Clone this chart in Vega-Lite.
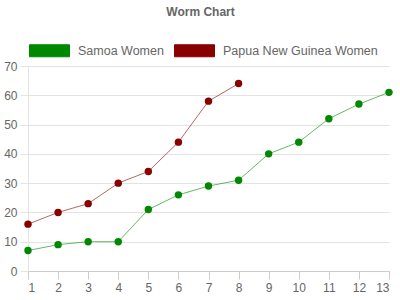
{
  "$schema": "https://vega.github.io/schema/vega-lite/v6.json",
  "width": 361,
  "height": 205,
  "autosize": {"type": "none"},
  "padding": {"left": 28, "top": 66, "right": 11, "bottom": 29},
  "background": "white",
  "config": {"view": {"stroke": null}, "font": "Liberation Sans"},
  "title": {"text": "Worm Chart", "fontSize": 12, "font": "Liberation Sans", "fontWeight": "bold", "color": "#666666", "anchor": "middle", "dx": -8, "offset": 11},
  "data": {
    "values": [
      {"series": "Samoa Women", "x": 1, "y": 7},
      {"series": "Samoa Women", "x": 2, "y": 9},
      {"series": "Samoa Women", "x": 3, "y": 10},
      {"series": "Samoa Women", "x": 4, "y": 10},
      {"series": "Samoa Women", "x": 5, "y": 21},
      {"series": "Samoa Women", "x": 6, "y": 26},
      {"series": "Samoa Women", "x": 7, "y": 29},
      {"series": "Samoa Women", "x": 8, "y": 31},
      {"series": "Samoa Women", "x": 9, "y": 40},
      {"series": "Samoa Women", "x": 10, "y": 44},
      {"series": "Samoa Women", "x": 11, "y": 52},
      {"series": "Samoa Women", "x": 12, "y": 57},
      {"series": "Samoa Women", "x": 13, "y": 61},
      {"series": "Papua New Guinea Women", "x": 1, "y": 16},
      {"series": "Papua New Guinea Women", "x": 2, "y": 20},
      {"series": "Papua New Guinea Women", "x": 3, "y": 23},
      {"series": "Papua New Guinea Women", "x": 4, "y": 30},
      {"series": "Papua New Guinea Women", "x": 5, "y": 34},
      {"series": "Papua New Guinea Women", "x": 6, "y": 44},
      {"series": "Papua New Guinea Women", "x": 7, "y": 58},
      {"series": "Papua New Guinea Women", "x": 8, "y": 64}
    ]
  },
  "encoding": {
    "x": {
      "field": "x", "type": "quantitative",
      "scale": {"domain": [1, 13], "nice": false, "zero": false},
      "axis": {"values": [1,2,3,4,5,6,7,8,9,10,11,12,13], "title": null, "grid": false, "domainColor": "#cccccc", "tickColor": "#cccccc", "tickSize": 8, "labelPadding": 3, "labelColor": "#666666", "labelFontSize": 12, "labelFont": "Liberation Sans"}
    },
    "y": {
      "field": "y", "type": "quantitative",
      "scale": {"domain": [0, 70], "nice": false},
      "axis": {"values": [0,10,20,30,40,50,60,70], "title": null, "gridColor": "#e3e3e3", "domainColor": "#e3e3e3", "tickColor": "#e3e3e3", "tickSize": 8, "labelPadding": 3, "labelColor": "#666666", "labelFontSize": 12, "labelFont": "Liberation Sans"}
    },
    "color": {
      "field": "series", "type": "nominal",
      "scale": {"domain": ["Samoa Women", "Papua New Guinea Women"], "range": ["#008800", "#880000"]},
      "legend": {"orient": "none", "legendX": 1, "legendY": -36, "direction": "horizontal", "title": null, "labelFontSize": 12.5, "labelColor": "#666666", "labelFont": "Liberation Sans", "labelOffset": 8, "labelLimit": 300, "columnPadding": 8, "symbolType": "M-1,-0.3H1V0.3H-1Z", "symbolSize": 1600, "symbolOpacity": 1, "symbolStrokeWidth": 1}
    }
  },
  "layer": [
    {"mark": {"type": "line", "strokeWidth": 1, "opacity": 0.6}},
    {"mark": {"type": "circle", "size": 55, "opacity": 1}}
  ]
}
